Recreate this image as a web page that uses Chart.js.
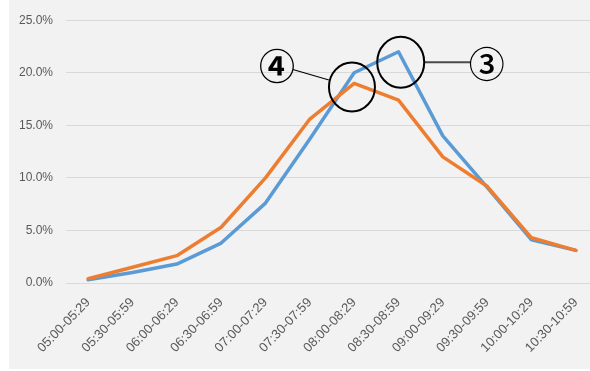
<!DOCTYPE html>
<html><head><meta charset="utf-8">
<script src="https://cdn.jsdelivr.net/npm/chart.js@4/dist/chart.umd.min.js"></script>
<style>
html,body{margin:0;padding:0;background:#fff;overflow:hidden;width:590px;height:371px;}
#bg{position:absolute;left:9px;top:0;width:581px;height:369px;background:#f2f2f2;}
#wrap{position:absolute;left:0;top:0;width:600px;height:371px;}
</style></head><body>
<div id="bg"></div>
<div id="wrap"><canvas id="c" width="600" height="371"></canvas></div>
<script>
const categories = ["05:00-05:29","05:30-05:59","06:00-06:29","06:30-06:59","07:00-07:29","07:30-07:59","08:00-08:29","08:30-08:59","09:00-09:29","09:30-09:59","10:00-10:29","10:30-10:59"];
const seriesBlue = [0.3, 1.0, 1.8, 3.8, 7.6, 13.7, 20.0, 22.0, 14.0, 9.1, 4.1, 3.1];
const seriesOrange = [0.4, 1.5, 2.6, 5.3, 10.0, 15.6, 19.0, 17.4, 12.0, 9.2, 4.3, 3.1];
const yTicks = [0, 5, 10, 15, 20, 25];
// annotation marks: [category index, value %]
const circleMarks = [[5.95, 18.65], [7.05, 21.0]];
const circleLabels = [["④", 4.257, 20.6, "bold"], ["③", 8.99, 20.83, "500"]];

const annot = {
  id: 'annot',
  afterDatasetsDraw(chart) {
    const ctx = chart.ctx, xs = chart.scales.x, ys = chart.scales.y;
    ctx.save();
    const c4 = [xs.getPixelForValue(circleMarks[0][0]), ys.getPixelForValue(circleMarks[0][1])];
    const c3 = [xs.getPixelForValue(circleMarks[1][0]), ys.getPixelForValue(circleMarks[1][1])];
    const l4 = [xs.getPixelForValue(circleLabels[0][1]), ys.getPixelForValue(circleLabels[0][2])];
    const l3 = [xs.getPixelForValue(circleLabels[1][1]), ys.getPixelForValue(circleLabels[1][2])];
    // leader lines
    ctx.strokeStyle = '#000'; ctx.lineWidth = 1.2;
    ctx.beginPath(); ctx.moveTo(l4[0] + 16, l4[1] + 3); ctx.lineTo(c4[0] - 23, c4[1] - 7); ctx.stroke();
    ctx.strokeStyle = '#4a4a4a'; ctx.lineWidth = 2;
    ctx.beginPath(); ctx.moveTo(c3[0] + 23.5, c3[1]); ctx.lineTo(l3[0] - 16, c3[1]); ctx.stroke();
    // circles
    ctx.strokeStyle = '#000'; ctx.lineWidth = 2;
    ctx.beginPath(); ctx.ellipse(c4[0], c4[1], 23, 24.5, 0, 0, Math.PI * 2); ctx.stroke();
    ctx.beginPath(); ctx.ellipse(c3[0], c3[1], 23.5, 25.5, 0, 0, Math.PI * 2); ctx.stroke();
    // labels, centred on their ink box
    ctx.fillStyle = '#000';
    ctx.textAlign = 'left'; ctx.textBaseline = 'alphabetic';
    [[circleLabels[0], l4], [circleLabels[1], l3]].forEach(([lab, p]) => {
      ctx.font = lab[3] + ' 36px "Noto Sans CJK JP"';
      const m = ctx.measureText(lab[0]);
      const w = m.actualBoundingBoxRight + m.actualBoundingBoxLeft;
      const h = m.actualBoundingBoxAscent + m.actualBoundingBoxDescent;
      ctx.fillText(lab[0], p[0] - w / 2 + m.actualBoundingBoxLeft, p[1] + h / 2 - m.actualBoundingBoxDescent);
    });
    ctx.restore();
  }
};

new Chart(document.getElementById('c'), {
  type: 'line',
  data: {
    labels: categories,
    datasets: [
      {data: seriesBlue, borderColor: '#5b9bd5', borderWidth: 3.5, pointRadius: 0, tension: 0, order: 2, borderJoinStyle: 'round', borderCapStyle: 'round'},
      {data: seriesOrange, borderColor: '#ed7d31', borderWidth: 3.5, pointRadius: 0, tension: 0, order: 1, borderJoinStyle: 'round', borderCapStyle: 'round'}
    ]
  },
  options: {
    responsive: false, animation: false,
    layout: {padding: {top: 13, right: 2, left: 0, bottom: 0}},
    plugins: {legend: {display: false}, tooltip: {enabled: false}},
    scales: {
      x: {
        offset: true,
        grid: {display: false, drawTicks: false},
        border: {display: false},
        afterFit(s) { s.height = 88; },
        ticks: {maxRotation: 46, minRotation: 46, autoSkip: false, padding: 12, color: '#595959',
          font: {family: '"Liberation Sans"', size: 13}}
      },
      y: {
        min: 0, max: 25,
        afterFit(s) { s.width = 66; },
        afterBuildTicks(s) { s.ticks = yTicks.map(v => ({value: v})); },
        grid: {color: '#d9d9d9', lineWidth: 1, drawTicks: false},
        border: {display: false},
        ticks: {padding: 13, color: '#595959', callback: v => v.toFixed(1) + '%',
          font: {family: '"Liberation Sans"', size: 12}}
      }
    }
  },
  plugins: [annot]
});
</script>
</body></html>
